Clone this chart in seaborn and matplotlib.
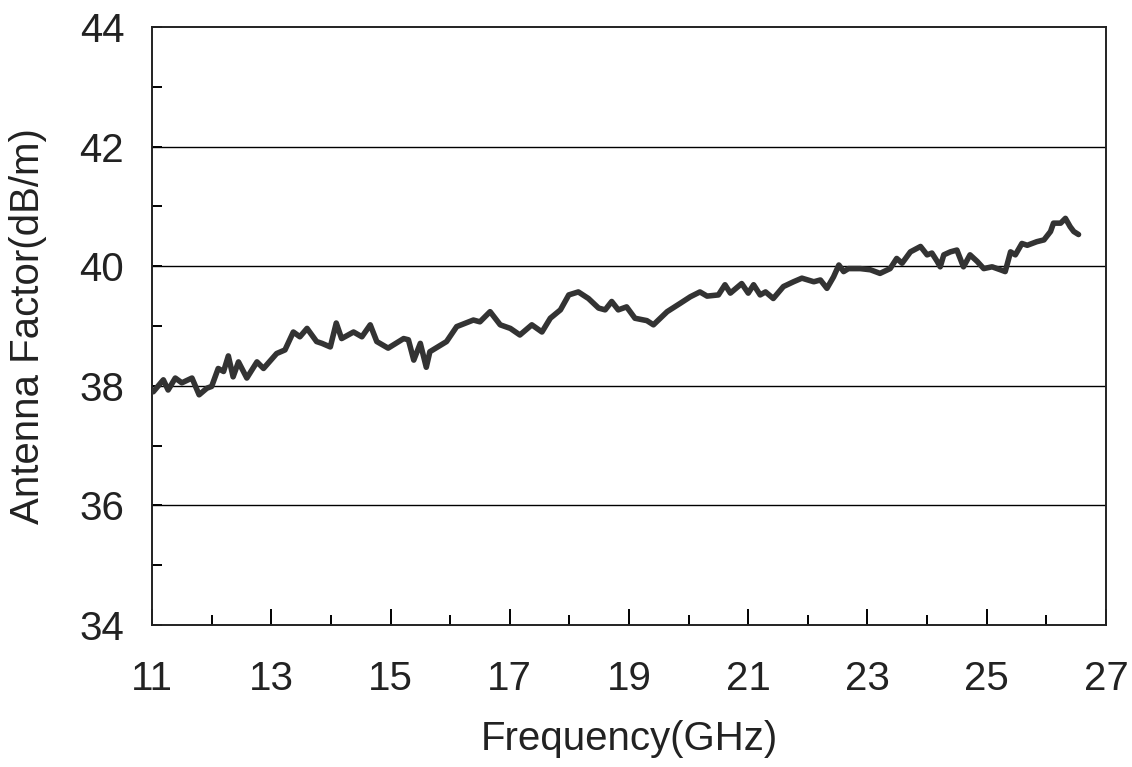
import matplotlib
matplotlib.use("Agg")
import matplotlib.pyplot as plt
import seaborn as sns
import pandas as pd
from matplotlib.ticker import MultipleLocator

# Antenna factor curve
freq_ghz = [
  11.02, 11.19, 11.27, 11.39, 11.50, 11.67, 11.79, 11.92, 12.00, 12.11,
  12.20, 12.28, 12.36, 12.45, 12.59, 12.76, 12.87, 13.09, 13.23, 13.37,
  13.48, 13.60, 13.76, 13.85, 13.99, 14.09, 14.18, 14.38, 14.52, 14.66,
  14.77, 14.96, 15.22, 15.30, 15.39, 15.50, 15.60, 15.66, 15.94, 16.11,
  16.39, 16.50, 16.67, 16.84, 17.01, 17.17, 17.37, 17.54, 17.68, 17.85,
  17.99, 18.15, 18.32, 18.49, 18.60, 18.71, 18.82, 18.96, 19.10, 19.30,
  19.41, 19.64, 19.86, 20.03, 20.19, 20.31, 20.50, 20.61, 20.70, 20.89,
  21.00, 21.09, 21.20, 21.29, 21.42, 21.59, 21.76, 21.90, 22.10, 22.21,
  22.32, 22.43, 22.52, 22.60, 22.68, 22.88, 23.05, 23.21, 23.38, 23.49,
  23.58, 23.72, 23.89, 24.00, 24.08, 24.17, 24.22, 24.28, 24.39, 24.50,
  24.61, 24.72, 24.84, 24.95, 25.09, 25.23, 25.31, 25.40, 25.48, 25.59,
  25.68, 25.84, 25.96, 26.07, 26.12, 26.24, 26.32, 26.40, 26.46, 26.54,
]
antenna_factor = [
  37.90, 38.10, 37.93, 38.13, 38.05, 38.13, 37.85, 37.96, 37.99, 38.29,
  38.24, 38.50, 38.15, 38.40, 38.13, 38.40, 38.29, 38.54, 38.60, 38.90,
  38.82, 38.96, 38.74, 38.71, 38.65, 39.05, 38.79, 38.90, 38.82, 39.02,
  38.74, 38.63, 38.79, 38.77, 38.43, 38.71, 38.31, 38.57, 38.74, 38.99,
  39.10, 39.07, 39.24, 39.02, 38.96, 38.85, 39.02, 38.90, 39.13, 39.27,
  39.52, 39.57, 39.46, 39.30, 39.27, 39.41, 39.27, 39.32, 39.13, 39.09,
  39.02, 39.24, 39.38, 39.49, 39.57, 39.50, 39.52, 39.69, 39.55, 39.71,
  39.55, 39.69, 39.52, 39.57, 39.46, 39.66, 39.74, 39.80, 39.74, 39.77,
  39.63, 39.82, 40.02, 39.91, 39.96, 39.96, 39.94, 39.88, 39.96, 40.13,
  40.05, 40.24, 40.33, 40.19, 40.22, 40.08, 39.99, 40.19, 40.24, 40.27,
  39.99, 40.19, 40.08, 39.96, 39.99, 39.94, 39.91, 40.24, 40.19, 40.38,
  40.35, 40.41, 40.44, 40.58, 40.72, 40.72, 40.80, 40.66, 40.58, 40.53,
]
x_ticks = [11, 13, 15, 17, 19, 21, 23, 25, 27]
y_ticks = [34, 36, 38, 40, 42, 44]

sns.set_theme(style="white")
plt.rcParams['font.family'] = ['Liberation Sans', 'DejaVu Sans']

df = pd.DataFrame({"freq": freq_ghz, "af": antenna_factor})

fig = plt.figure(figsize=(11.32, 7.67), dpi=100)
ax = fig.add_axes([0.1343, 0.1851, 0.8427, 0.7797])

# grid at the even dB values only
for yv in y_ticks[1:-1]:
  ax.axhline(yv, color="black", linewidth=1.0, zorder=1)

sns.lineplot(data=df, x="freq", y="af", ax=ax, color="#333333",
             linewidth=4.0, zorder=3)
for ln in ax.lines:
  ln.set_solid_joinstyle("round")
  ln.set_solid_capstyle("round")

ax.set_xlim(11, 27)
ax.set_ylim(34, 44)
ax.set_xticks(x_ticks)
ax.set_yticks(y_ticks)
ax.xaxis.set_minor_locator(MultipleLocator(1))
ax.yaxis.set_minor_locator(MultipleLocator(1))

ax.tick_params(axis="x", which="major", direction="in", length=11.5, width=1.4,
               color="black", labelsize=29, pad=25, labelcolor="#222222")
ax.tick_params(axis="x", which="minor", direction="in", length=7, width=1.4,
               color="black")
ax.tick_params(axis="y", which="both", direction="in", length=7, width=1.4,
               color="black", labelsize=29, pad=20, labelcolor="#222222")
ax.tick_params(which="both", bottom=True, left=True)

for s in ax.spines.values():
  s.set_color("#222222")
  s.set_linewidth(1.4)

ax.set_xlabel("Frequency(GHz)", fontsize=29, color="#222222", labelpad=16)
ax.set_ylabel("Antenna Factor(dB/m)", fontsize=29, color="#222222", labelpad=23)

fig.savefig("out.png", dpi=100)
plt.close(fig)
